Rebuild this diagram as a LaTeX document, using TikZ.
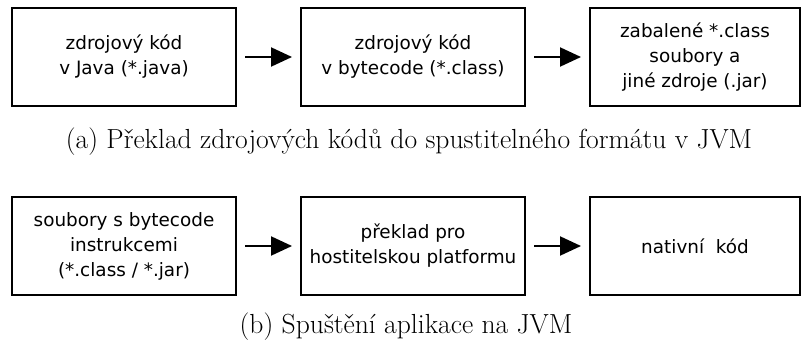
\documentclass[tikz,border=0pt]{standalone}
\usepackage{fontspec}
\newfontfamily\boxfont{DejaVu Sans}
\usepackage{tikz}
\usetikzlibrary{arrows.meta,calc}

\tikzset{
  stage/.style={draw, line width=2pt, align=center, inner sep=0pt,
    minimum height=98pt, font=\boxfont\fontsize{18.4}{25}\selectfont},
  flow/.style={-{Triangle[length=21pt,width=19pt]}, line width=2pt,
    shorten <=8pt, shorten >=8pt},
  caption/.style={font=\fontsize{27.6}{32}\selectfont}
}

\begin{document}
\begin{tikzpicture}[x=1pt,y=1pt]
      \useasboundingbox (0,0) rectangle (803,-342);

      % (a) preklad
      \node[stage, minimum width=224pt] (src) at (124,-57) {zdrojový kód\\v Java (*.java)};
      \node[stage, minimum width=224pt] (bc) at (413,-57) {zdrojový kód\\v bytecode (*.class)};
      \node[stage, minimum width=210pt] (jar) at (695,-57) {zabalené *.class\\soubory a\\jiné zdroje (.jar)};

      \draw[flow] (src) -- (bc);
      \draw[flow] (bc) -- (jar);

      \node[caption] (capa) at (409,-142) {(a) Překlad zdrojových kódů do spustitelného formátu v JVM};

      % (b) spusteni
      \node[stage, minimum width=224pt] (cls) at (124,-246) {soubory s bytecode\\instrukcemi\\(*.class / *.jar)};
      \node[stage, minimum width=224pt] (jit) at (413,-246) {překlad pro\\hostitelskou platformu};
      \node[stage, minimum width=210pt] (nat) at (695,-246) {nativní\ \ kód};

      \draw[flow] (cls) -- (jit);
      \draw[flow] (jit) -- (nat);

      \node[caption] (capb) at (406,-327) {(b) Spuštění aplikace na JVM};
    \end{tikzpicture}
\end{document}
